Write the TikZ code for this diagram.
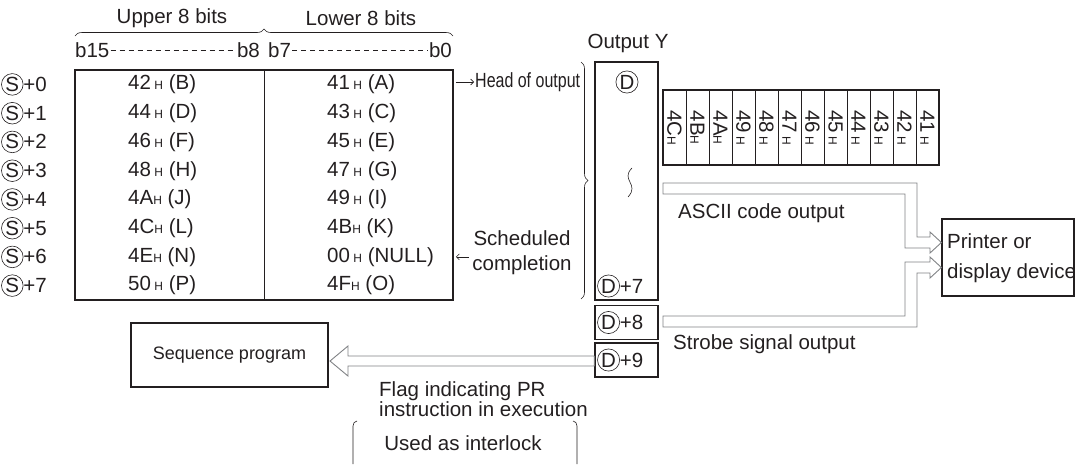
\documentclass[tikz,border=0pt]{standalone}
\usepackage{fontspec}
\setmainfont{Liberation Sans}
\usepackage{graphicx}
\usetikzlibrary{calc,decorations.pathreplacing,arrows.meta}
\definecolor{figBlack}{HTML}{231F20}
\definecolor{figGray}{HTML}{808285}

\newcommand{\circled}[1]{\tikz[baseline=(ch.base)]\node[draw=figBlack, circle,
  line width=0.6pt, inner sep=0.6pt, anchor=center,
  font=\fontsize{20.5}{24}\selectfont] (ch) {#1};}
\newcommand{\hx}{{\fontsize{12}{12}\selectfont H}}

\begin{document}
\begin{tikzpicture}[x=1pt, y=-1pt,
  every node/.style={font=\fontsize{20.5}{24}\selectfont, text=figBlack},
  lbl/.style={anchor=west, inner sep=0pt},
  cellbox/.style={draw=figBlack, line width=0.6pt, minimum width=23pt,
             minimum height=75pt, inner sep=0pt},
  regbox/.style={draw=figBlack, line width=1.2pt, minimum width=63pt, inner sep=0pt},
  hollow/.style={draw=figGray, line width=0.9pt, fill=white, line join=miter},
  txtarr/.style={-{Straight Barb[length=3pt, width=6pt]}, line width=0.6pt, figBlack},
  curly/.style={decorate, decoration={brace, amplitude=7pt}, line width=0.6pt, figBlack},
  bitdash/.style={dash pattern=on 5pt off 4pt, line width=0.6pt, figBlack,
             shorten <=1pt, shorten >=1pt},
]
\useasboundingbox (0,0) rectangle (1075,464);

% Header over the source table
\node (upper) at (172,18) {Upper 8 bits};
\node (lower) at (361,18) {Lower 8 bits};
\draw[curly] (75,36) -- (453,36);
\node[lbl] (b15) at (75,50) {b15};
\node[lbl, anchor=east] (b8) at (260,50) {b8};
\node[lbl] (b7) at (268,50) {b7};
\node[lbl, anchor=east] (b0) at (452,50) {b0};
\draw[bitdash] (b15) -- (b8);
\draw[bitdash] (b7) -- (b0);

% Source table S+0 ... S+7
\node[draw=figBlack, line width=1.8pt, minimum width=378pt, minimum height=230pt,
  inner sep=0pt] (table) at (264,185) {};
\draw[line width=0.7pt, figBlack] (table.north) -- (table.south);
\node[lbl] (s0) at (1,84.4) {\circled{S}+0};
\node[lbl] (s1) at (1,113.2) {\circled{S}+1};
\node[lbl] (s2) at (1,141.9) {\circled{S}+2};
\node[lbl] (s3) at (1,170.7) {\circled{S}+3};
\node[lbl] (s4) at (1,199.4) {\circled{S}+4};
\node[lbl] (s5) at (1,228.2) {\circled{S}+5};
\node[lbl] (s6) at (1,256.9) {\circled{S}+6};
\node[lbl] (s7) at (1,285.6) {\circled{S}+7};
\node[lbl] (u0) at (128,84.4) {42\,\hx\ (B)};
\node[lbl] (u1) at (128,113.2) {44\,\hx\ (D)};
\node[lbl] (u2) at (128,141.9) {46\,\hx\ (F)};
\node[lbl] (u3) at (128,170.7) {48\,\hx\ (H)};
\node[lbl] (u4) at (128,199.4) {4A\hx\ (J)};
\node[lbl] (u5) at (128,228.2) {4C\hx\ (L)};
\node[lbl] (u6) at (128,256.9) {4E\hx\ (N)};
\node[lbl] (u7) at (128,285.6) {50\,\hx\ (P)};
\node[lbl] (l0) at (327,84.4) {41\,\hx\ (A)};
\node[lbl] (l1) at (327,113.2) {43\,\hx\ (C)};
\node[lbl] (l2) at (327,141.9) {45\,\hx\ (E)};
\node[lbl] (l3) at (327,170.7) {47\,\hx\ (G)};
\node[lbl] (l4) at (327,199.4) {49\,\hx\ (I)};
\node[lbl] (l5) at (327,228.2) {4B\hx\ (K)};
\node[lbl] (l6) at (327,256.9) {00\,\hx\ (NULL)};
\node[lbl] (l7) at (327,285.6) {4F\hx\ (O)};

% Notes beside the table
\node[lbl] (head) at (475,82) {\scalebox{0.78}[1]{Head of output}};
\draw[txtarr, shorten <=2pt, shorten >=1pt] (head.west -| table.east) -- (head.west);
\node[align=center, font=\fontsize{20.5}{25}\selectfont] (sched) at (522,253)
  {Scheduled\\completion};
\draw[txtarr, shorten >=2pt] (sched.west |- l6) -- (l6 -| table.east);
\draw[curly] (581,62) -- (581,299);

% Output Y registers
\node (outy) at (628,43) {Output Y};
\node[regbox, minimum height=238pt] (dmain) at (626.5,181) {};
\node (d0) at (627,82) {\circled{D}};
\draw[line width=0.6pt, figBlack] (632,168) .. controls (620,180) and (640,184) .. (628,197);
\node[lbl] (d7) at (597,286) {\circled{D}+7};
\node[regbox, line width=1.5pt, minimum height=34pt] (d8box) at (626.5,322.5) {};
\node[lbl] (d8) at (597,322.5) {\circled{D}+8};
\node[regbox, line width=1.5pt, minimum height=34pt] (d9box) at (626.5,360) {};
\node[lbl] (d9) at (597,360) {\circled{D}+9};

% Characters in order of output
\node[cellbox] (c4C) at (674.5,127.5) {\rotatebox{-90}{4C\hx}};
\node[cellbox] (c4B) at (697.5,127.5) {\rotatebox{-90}{4B\hx}};
\node[cellbox] (c4A) at (720.5,127.5) {\rotatebox{-90}{4A\hx}};
\node[cellbox] (c49) at (743.5,127.5) {\rotatebox{-90}{49\,\hx}};
\node[cellbox] (c48) at (766.5,127.5) {\rotatebox{-90}{48\,\hx}};
\node[cellbox] (c47) at (789.5,127.5) {\rotatebox{-90}{47\,\hx}};
\node[cellbox] (c46) at (812.5,127.5) {\rotatebox{-90}{46\,\hx}};
\node[cellbox] (c45) at (835.5,127.5) {\rotatebox{-90}{45\,\hx}};
\node[cellbox] (c44) at (858.5,127.5) {\rotatebox{-90}{44\,\hx}};
\node[cellbox] (c43) at (881.5,127.5) {\rotatebox{-90}{43\,\hx}};
\node[cellbox] (c42) at (904.5,127.5) {\rotatebox{-90}{42\,\hx}};
\node[cellbox] (c41) at (927.5,127.5) {\rotatebox{-90}{41\,\hx}};
\draw[line width=1.8pt, figBlack] (c4C.north west) rectangle (c41.south east);

% Printer and hollow arrows
\node[draw=figBlack, line width=1.2pt, minimum width=132pt, minimum height=77pt,
  inner sep=0pt] (printer) at (1008,257.5) {};
\node[lbl, align=left, font=\fontsize{20.5}{30}\selectfont] (printxt) at (947,258)
  {Printer or\\display device};
\draw[hollow] (663,183) -- (917,183) -- (917,237) -- (930,237) -- (930,232)
  -- (printer.west |- 0,242.5) -- (930,253) -- (930,248) -- (905,248)
  -- (905,194) -- (663,194) -- cycle;
\draw[hollow] (663,316) -- (905,316) -- (905,262) -- (930,262) -- (930,257)
  -- (printer.west |- 0,267.5) -- (930,278) -- (930,273) -- (917,273)
  -- (917,327) -- (663,327) -- cycle;
\node[lbl] (asctxt) at (678,213) {ASCII code output};
\node[lbl] (strtxt) at (673,344) {Strobe signal output};

% Sequence program side
\node[draw=figBlack, line width=1.5pt, minimum width=197pt, minimum height=64pt,
  font=\fontsize{18}{20}\selectfont] (seq) at (229.5,355) {Sequence program};
\draw[hollow] (d9box.west |- 0,356) -- (348,356) -- (348,346) -- (330,361)
  -- (348,376) -- (348,366) -- (d9box.west |- 0,366) -- cycle;
\node[lbl, align=left, font=\fontsize{20.5}{18}\selectfont] (flag) at (379,399)
  {Flag indicating PR\\instruction in execution};
\node (lock) at (463,443) {Used as interlock};
\draw[line width=0.6pt, figBlack] (353,464) -- (353,426) to[out=90, in=180] (357,421);
\draw[line width=0.6pt, figBlack] (577,464) -- (577,426) to[out=90, in=0] (573,421);

\end{tikzpicture}
\end{document}
